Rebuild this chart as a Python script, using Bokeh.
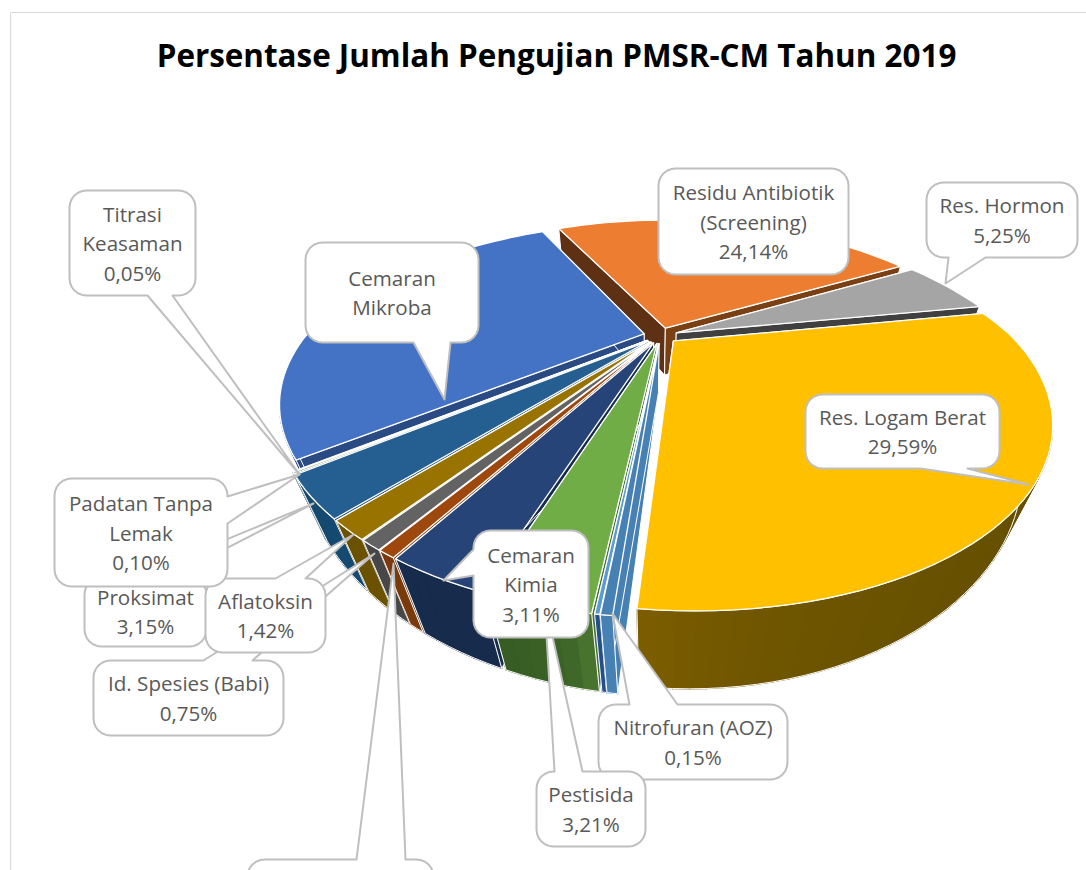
import math
from bokeh.plotting import figure
from bokeh.models import Range1d, ColumnDataSource
from bokeh.core.properties import value
from bokeh.embed import file_html
from bokeh.resources import INLINE

# ---------- data, clockwise from the start of the first slice ----------
categories = ["Cemaran Mikroba", "Residu Antibiotik (Screening)", "Res. Hormon",
              "Res. Logam Berat", "(tanpa label)", "Nitrofuran (AOZ)", "Pestisida",
              "Cemaran Kimia", "(label terpotong)", "Id. Spesies (Babi)", "Aflatoksin",
              "Proksimat", "Padatan Tanpa Lemak", "Titrasi Keasaman"]
values = [28.13, 24.14, 5.25, 29.59, 0.35, 0.15, 3.21,
          3.11, 0.60, 0.75, 1.42, 3.15, 0.10, 0.05]
top_colors = ["#4472C4", "#ED7D31", "#A5A5A5", "#FFC000", "#4781B4", "#5B9BD5", "#70AD47",
              "#264478", "#9E480E", "#636363", "#997300", "#255E91", "#43682B", "#698ED0"]
wall_colors = [("#2A4A84", "#2A4A84"), ("#5E3114", "#7A3F12"), ("#404040", "#404040"),
               ("#7E5E00", "#665000"), ("#4781B4", "#4781B4"), ("#24508A", "#24508A"),
               ("#47732F", "#365A23"), ("#172B4D", "#172B4D"), ("#7A3A0C", "#7A3A0C"),
               ("#474747", "#474747"), ("#6B5200", "#6B5200"), ("#164A70", "#164A70"),
               ("#2F4A1E", "#2F4A1E"), ("#3F5E9A", "#3F5E9A")]
title_text = "Persentase Jumlah Pengujian PMSR-CM Tahun 2019"

# ---------- layout ----------
W, H = 1086, 870
START_DEG = 217.7
EXPLODE = 0.05
CX, CY, SX, SY, PERSP = 660.0, 335.0, 338.0, 159.0, 0.39
SHEAR = 0.05
FAR_X, FAR_Y = 0.0004, 0.975
VX, VY, S0, HY = 650.0, 1200.0, 0.152, -60.0

p = figure(width=W, height=H, x_range=Range1d(0, W), y_range=Range1d(H, 0),
           x_axis_location=None, y_axis_location=None, toolbar_location=None,
           output_backend="svg", min_border=0, outline_line_color=None,
           background_fill_color="white", border_fill_color="white")
p.grid.visible = False


def top(X, Y):
    w = 1 + PERSP * Y
    sy = CY - SY * Y / w
    dx = SX * X / w
    if sy < CY:
        dx *= 1 - FAR_X * (CY - sy)
        sy = CY - (CY - sy) * FAR_Y
    return CX + dx + SHEAR * max(0.0, sy - CY), sy


def drop(pt):
    x, y = pt
    s = S0 * ((y - HY) / 670.0) ** 1.8
    return (x + s * VX) / (1 + s), (y + s * VY) / (1 + s)


def mix(c1, c2, t):
    a = [int(c1[i:i + 2], 16) for i in (1, 3, 5)]
    b = [int(c2[i:i + 2], 16) for i in (1, 3, 5)]
    return "#%02x%02x%02x" % tuple(round(u + (v - u) * t) for u, v in zip(a, b))


total = sum(values)
slices = []
ang = START_DEG
for i, v in enumerate(values):
    sweep = v / total * 360.0
    slices.append((i, ang, ang - sweep))
    ang -= sweep
slices.sort(key=lambda s: -math.sin(math.radians((s[1] + s[2]) / 2)))

xs, ys, fills, lines, widths = [], [], [], [], []


def add(poly, fill, line, width):
    xs.append([q[0] for q in poly])
    ys.append([q[1] for q in poly])
    fills.append(fill)
    lines.append(line)
    widths.append(width)


for i, a0, a1 in slices:
    mid = math.radians((a0 + a1) / 2)
    ox, oy = EXPLODE * math.cos(mid), EXPLODE * math.sin(mid)
    n = max(2, int(abs(a0 - a1) / 2.0) + 1)
    angs = [math.radians(a0 + (a1 - a0) * k / n) for k in range(n + 1)]
    arc = [top(ox + math.cos(a), oy + math.sin(a)) for a in angs]
    apex = top(ox, oy)
    arc_b = [drop(q) for q in arc]
    apex_b = drop(apex)
    c0, c1 = wall_colors[i]
    # radial walls
    add([apex, arc[0], arc_b[0], apex_b], c0, "white", 1)
    add([apex, arc[-1], arc_b[-1], apex_b], c1, "white", 1)
    # outer wall, shaded along the arc; only the part that faces the viewer
    vis = [k for k in range(n) if math.sin((angs[k] + angs[k + 1]) / 2) < -0.45]
    for k in vis:
        c = mix(c0, c1, min(1.0, (k / n) ** 0.4)) if i != 3 else mix(c1, c0, (k / n) ** 6)
        add([arc[k], arc[k + 1], arc_b[k + 1], arc_b[k]], c, c, 1.2)
    if vis:
        k0, k1 = vis[0], vis[-1] + 1
        add(arc[k0:k1 + 1] + arc_b[k0:k1 + 1][::-1], None, "white", 1)
    # upper face
    add([apex] + arc, top_colors[i], "white", 1.3)

src = ColumnDataSource(dict(xs=xs, ys=ys, fill=fills, line=lines, lw=widths))
p.patches("xs", "ys", source=src, fill_color="fill", line_color="line", line_width="lw",
          line_join="round")

# chart frame
p.line([10, 10], [12, 870], line_color="#D9D9D9", line_width=1.2)
p.line([10, 1086], [12, 12], line_color="#D9D9D9", line_width=1.2)


def callout(box, wedge, lines_of_text=(), size="20.6px", line_gap=29.5):
    x0, x1, y0, y1 = box
    r = 17
    def corner(cx_, cy_, a_start):
        return [(cx_ + r * math.cos(math.radians(a_start + 15 * t)),
                 cy_ + r * math.sin(math.radians(a_start + 15 * t))) for t in range(7)]
    edge, b0, b1, tx, ty = wedge if wedge else (None, 0, 0, 0, 0)
    pts = corner(x0 + r, y0 + r, 180)
    if edge == "top":
        pts += [(b0, y0), (tx, ty), (b1, y0)]
    pts += corner(x1 - r, y0 + r, 270)
    if edge == "right":
        pts += [(x1, b0), (tx, ty), (x1, b1)]
    pts += corner(x1 - r, y1 - r, 0)
    if edge == "bottom":
        pts += [(b1, y1), (tx, ty), (b0, y1)]
    pts += corner(x0 + r, y1 - r, 90)
    if edge == "left":
        pts += [(x0, b1), (tx, ty), (x0, b0)]
    p.patch([q[0] for q in pts], [q[1] for q in pts], fill_color="white",
            line_color="#BFBFBF", line_width=2, line_join="round")
    if lines_of_text:
        n = len(lines_of_text)
        yc = (y0 + y1) / 2
        p.text([(x0 + x1) / 2] * n, [yc + (j - (n - 1) / 2) * line_gap for j in range(n)],
               text=list(lines_of_text), text_font=value("Open Sans"), text_font_size=size,
               text_color="#595959", text_align="center", text_baseline="middle")


callout((247, 433, 859, 930), ("top", 356, 405, 393, 563))
callout((69, 195, 190, 295), ("bottom", 147, 172, 299, 474), ("Titrasi", "Keasaman", "0,05%"))
callout((305, 478, 242, 342), ("bottom", 413, 450, 444, 399), ("Cemaran", "Mikroba"))
callout((658, 848, 168, 274), None, ("Residu Antibiotik", "(Screening)", "24,14%"))
callout((926, 1077, 182, 257), ("bottom", 948, 985, 945, 283), ("Res. Hormon", "5,25%"))
callout((805, 999, 394, 468), ("bottom", 920, 967, 1028, 484), ("Res. Logam Berat", "29,59%"))
callout((598, 787, 704, 779), ("top", 629, 677, 612, 613), ("Nitrofuran (AOZ)", "0,15%"))
callout((536, 645, 771, 846), ("top", 554, 582, 544, 600), ("Pestisida", "3,21%"))
callout((473, 588, 530, 637), ("left", 549, 575, 443, 580), ("Cemaran", "Kimia", "3,11%"))
callout((93, 283, 660, 735), ("top", 203, 252, 374, 553), ("Id. Spesies (Babi)", "0,75%"))
callout((84, 206, 577, 646), ("top", 134, 169, 313, 503), ())
p.text([145, 145], [596, 625], text=["Proksimat", "3,15%"], text_font=value("Open Sans"),
       text_font_size="20.6px", text_color="#595959", text_align="center", text_baseline="middle")
callout((205, 325, 578, 652), ("top", 275, 305, 353, 534), ("Aflatoksin", "1,42%"))
callout((54, 227, 478, 586), ("right", 496, 523, 299, 474), ("Padatan Tanpa", "Lemak", "0,10%"))

p.text([556], [54], text=[title_text], text_font=value("Open Sans"), text_font_size="31.4px",
       text_font_style="bold", text_color="#000000", text_align="center", text_baseline="middle")

open("out.html", "w").write(file_html(p, INLINE))
